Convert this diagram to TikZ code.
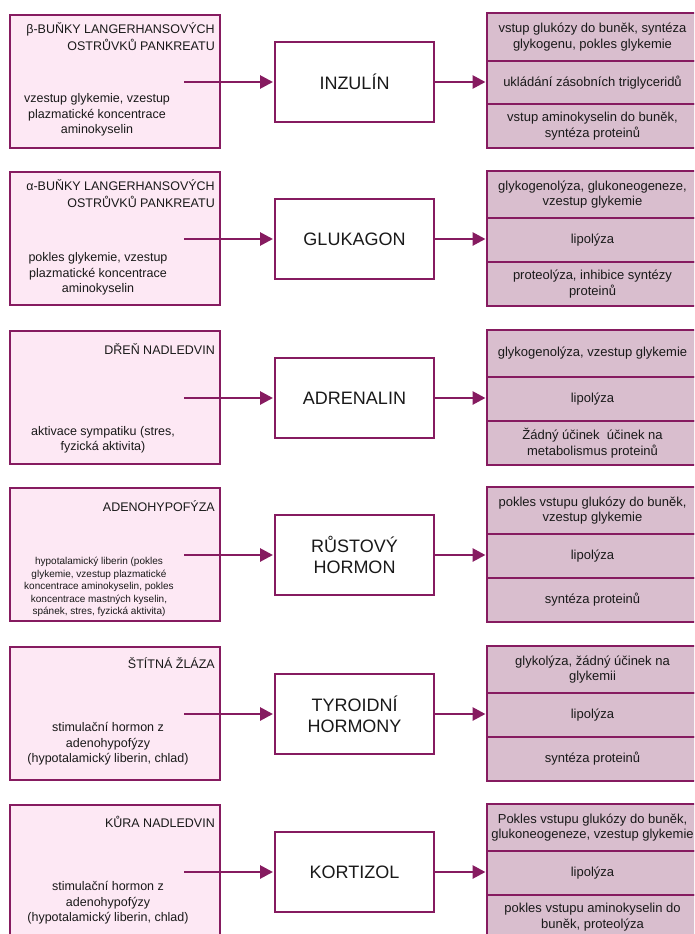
\documentclass[tikz,border=0pt]{standalone}
\usepackage{fontspec}
\setmainfont{Liberation Sans}
\usetikzlibrary{arrows.meta}
\definecolor{bord}{RGB}{134,27,96}
\definecolor{srcfill}{RGB}{253,232,244}
\definecolor{effill}{RGB}{217,190,206}
\definecolor{txt}{RGB}{25,25,25}
\tikzset{
 srcbox/.style={draw=bord, fill=srcfill, line width=2pt, minimum width=210pt, minimum height=133pt, anchor=north west, inner sep=0pt, outer sep=0pt},
 hormbox/.style={draw=bord, fill=white, line width=2pt, minimum width=159pt, minimum height=80pt, anchor=north west, align=center, font=\fontsize{18}{21}\selectfont, text=txt, inner sep=0pt, outer sep=0pt},
 effrow/.style={draw=bord, fill=effill, line width=2pt, minimum width=211pt, anchor=north west, align=center, font=\fontsize{13}{15.5}\selectfont, text=txt, inner sep=0pt, outer sep=0pt},
 titletxt/.style={anchor=north east, align=right, font=\fontsize{12.5}{17}\selectfont, text=txt, inner sep=0pt},
 causetxt/.style={align=center, font=\fontsize{12.5}{15.5}\selectfont, text=txt, inner sep=0pt},
 smallcause/.style={align=center, font=\fontsize{10}{12.5}\selectfont, text=txt, inner sep=0pt},
 flow/.style={draw=bord, line width=2.8pt, -{Triangle[length=13pt,width=13pt]}},
}
\begin{document}
\begin{tikzpicture}[x=1pt,y=-1pt]
\useasboundingbox (0,0) rectangle (694,934);
\clip (0,0) rectangle (694,934);
% ---------- group 1 (T=15)
\node[srcbox] (l1) at (10,15) {};
\node[titletxt] (t1) at (215,22) {β-BUŇKY LANGERHANSOVÝCH\\OSTRŮVKŮ PANKREATU};
\node[causetxt] (c1) at (97,115) {vzestup glykemie, vzestup\\plazmatické koncentrace\\aminokyselin};
\node[hormbox] (h1) at (275,42) {INZULÍN};
\node[effrow, minimum height=48pt] (r1a) at (487,13) {vstup glukózy do buněk, syntéza\\glykogenu, pokles glykemie};
\node[effrow, minimum height=43pt] (r1b) at (487,61) {ukládání zásobních triglyceridů};
\node[effrow, minimum height=44pt] (r1c) at (487,104) {vstup aminokyselin do buněk,\\syntéza proteinů};
\coordinate (s1) at (184,82);
\draw[flow, shorten >=2pt] (s1) -- (s1 -| h1.west);
\draw[flow, shorten >=1.5pt] (h1.east) -- (h1.east -| r1b.west);
% ---------- group 2 (T=172)
\node[srcbox] (l2) at (10,172) {};
\node[titletxt] (t2) at (215,179) {α-BUŇKY LANGERHANSOVÝCH\\OSTRŮVKŮ PANKREATU};
\node[causetxt] (c2) at (98,274) {pokles glykemie, vzestup\\plazmatické koncentrace\\aminokyselin};
\node[hormbox] (h2) at (275,199) {GLUKAGON};
\node[effrow, minimum height=47pt] (r2a) at (487,171) {glykogenolýza, glukoneogeneze,\\vzestup glykemie};
\node[effrow, minimum height=44pt] (r2b) at (487,218) {lipolýza};
\node[effrow, minimum height=44pt] (r2c) at (487,262) {proteolýza, inhibice syntézy\\proteinů};
\coordinate (s2) at (184,239);
\draw[flow, shorten >=2pt] (s2) -- (s2 -| h2.west);
\draw[flow, shorten >=1.5pt] (h2.east) -- (h2.east -| r2b.west);
% ---------- group 3 (T=331)
\node[srcbox] (l3) at (10,331) {};
\node[titletxt] (t3) at (215,343) {DŘEŇ NADLEDVIN};
\node[causetxt] (c3) at (103,440) {aktivace sympatiku (stres,\\fyzická aktivita)};
\node[hormbox] (h3) at (275,358) {ADRENALIN};
\node[effrow, minimum height=47pt] (r3a) at (487,330) {glykogenolýza, vzestup glykemie};
\node[effrow, minimum height=44pt] (r3b) at (487,377) {lipolýza};
\node[effrow, minimum height=44pt] (r3c) at (487,421) {Žádný účinek\ \ účinek na\\metabolismus proteinů};
\coordinate (s3) at (184,398);
\draw[flow, shorten >=2pt] (s3) -- (s3 -| h3.west);
\draw[flow, shorten >=1.5pt] (h3.east) -- (h3.east -| r3b.west);
% ---------- group 4 (T=488)
\node[srcbox] (l4) at (10,488) {};
\node[titletxt] (t4) at (215,500) {ADENOHYPOFÝZA};
\node[smallcause] (c4) at (99,587) {hypotalamický liberin (pokles\\glykemie, vzestup plazmatické\\koncentrace aminokyselin, pokles\\koncentrace mastných kyselin,\\spánek, stres, fyzická aktivita)};
\node[hormbox] (h4) at (275,515) {RŮSTOVÝ\\HORMON};
\node[effrow, minimum height=47pt] (r4a) at (487,487) {pokles vstupu glukózy do buněk,\\vzestup glykemie};
\node[effrow, minimum height=44pt] (r4b) at (487,534) {lipolýza};
\node[effrow, minimum height=44pt] (r4c) at (487,578) {syntéza proteinů};
\coordinate (s4) at (184,555);
\draw[flow, shorten >=2pt] (s4) -- (s4 -| h4.west);
\draw[flow, shorten >=1.5pt] (h4.east) -- (h4.east -| r4b.west);
% ---------- group 5 (T=647)
\node[srcbox] (l5) at (10,647) {};
\node[titletxt] (t5) at (215,657) {ŠTÍTNÁ ŽLÁZA};
\node[causetxt] (c5) at (108,744) {stimulační hormon z\\adenohypofýzy\\(hypotalamický liberin, chlad)};
\node[hormbox] (h5) at (275,674) {TYROIDNÍ\\HORMONY};
\node[effrow, minimum height=47pt] (r5a) at (487,646) {glykolýza, žádný účinek na\\glykemii};
\node[effrow, minimum height=44pt] (r5b) at (487,693) {lipolýza};
\node[effrow, minimum height=44pt] (r5c) at (487,737) {syntéza proteinů};
\coordinate (s5) at (184,714);
\draw[flow, shorten >=2pt] (s5) -- (s5 -| h5.west);
\draw[flow, shorten >=1.5pt] (h5.east) -- (h5.east -| r5b.west);
% ---------- group 6 (T=805)
\node[srcbox] (l6) at (10,805) {};
\node[titletxt] (t6) at (215,816) {KŮRA NADLEDVIN};
\node[causetxt] (c6) at (108,903) {stimulační hormon z\\adenohypofýzy\\(hypotalamický liberin, chlad)};
\node[hormbox] (h6) at (275,832) {KORTIZOL};
\node[effrow, minimum height=47pt] (r6a) at (487,804) {Pokles vstupu glukózy do buněk,\\glukoneogeneze, vzestup glykemie};
\node[effrow, minimum height=44pt] (r6b) at (487,851) {lipolýza};
\node[effrow, minimum height=44pt] (r6c) at (487,895) {pokles vstupu aminokyselin do\\buněk, proteolýza};
\coordinate (s6) at (184,872);
\draw[flow, shorten >=2pt] (s6) -- (s6 -| h6.west);
\draw[flow, shorten >=1.5pt] (h6.east) -- (h6.east -| r6b.west);
\end{tikzpicture}
\end{document}
